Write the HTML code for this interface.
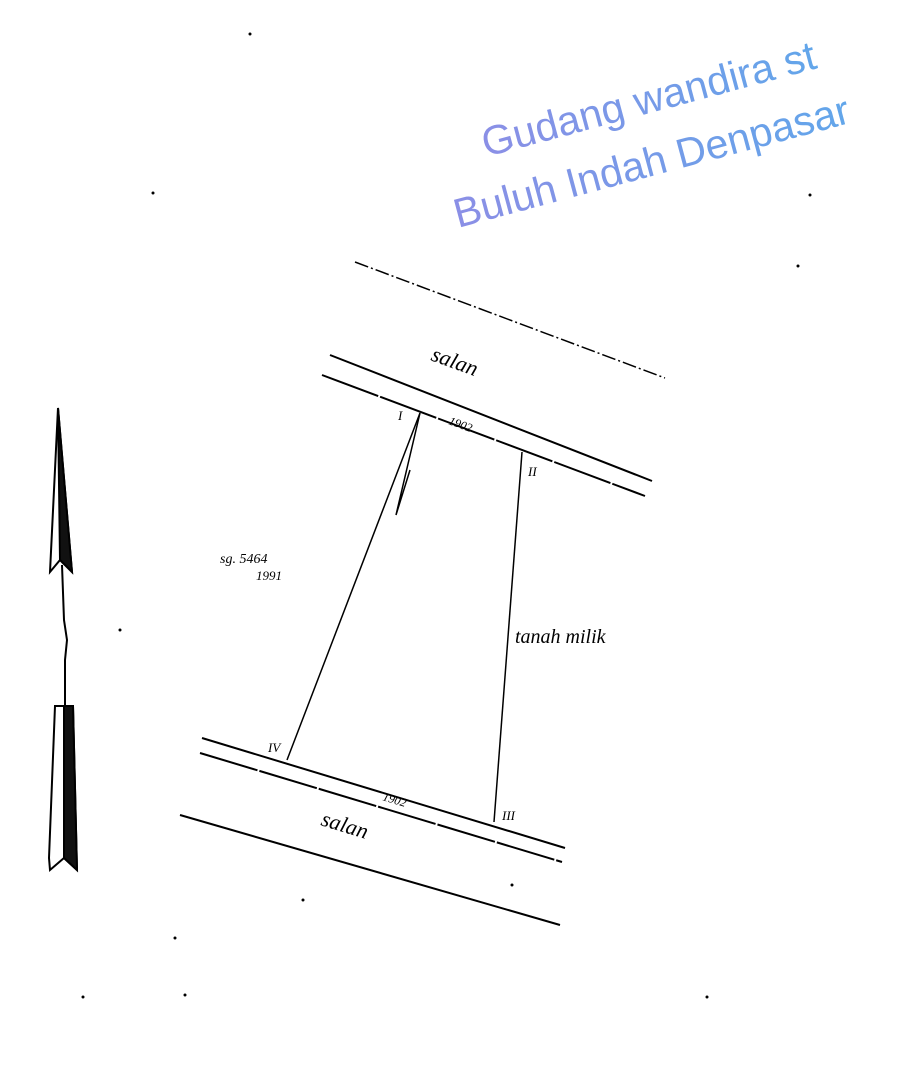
<!DOCTYPE html>
<html><head><style>
html,body{margin:0;padding:0;background:#fff;}
svg{display:block;}
</style></head><body>
<svg width="901" height="1080" viewBox="0 0 901 1080" xmlns="http://www.w3.org/2000/svg">
<defs>
<linearGradient id="g" x1="0" y1="0" x2="1" y2="0">
<stop offset="0" stop-color="#8b8fe6"/><stop offset="1" stop-color="#62a6ea"/>
</linearGradient>
</defs>
<rect width="901" height="1080" fill="#fff"/>
<g font-family="Liberation Sans, sans-serif" font-size="41" fill="url(#g)">
<text x="486" y="157" transform="rotate(-15 486 157)">Gudang wandira st</text>
<text x="458" y="228" transform="rotate(-15 458 228)">Buluh Indah Denpasar</text>
</g>
<!-- north arrow -->
<g stroke="#000" stroke-width="2" stroke-linejoin="miter">
<polygon points="58,408 50,572 60,560 72,572" fill="#fff"/>
<polygon points="58,408 60,560 72,572" fill="#111"/>
<polyline points="62,565 64,620 67,640 65,660 65,706" fill="none"/>
<polygon points="55,706 73,706 77,870 64,858 50,870 49,858" fill="#fff"/>
<polygon points="64,706 73,706 77,870 64,858" fill="#111"/>
</g>
<!-- roads -->
<g stroke="#000" stroke-width="2" fill="none">
<line x1="355" y1="262" x2="665" y2="378" stroke-dasharray="14,3,2,3" stroke-width="1.5"/>
<line x1="330" y1="355" x2="652" y2="481"/>
<line x1="322" y1="375" x2="645" y2="496" stroke-dasharray="60,2"/>
<line x1="202" y1="738" x2="565" y2="848"/>
<line x1="200" y1="753" x2="562" y2="862" stroke-dasharray="60,2"/>
<line x1="180" y1="815" x2="560" y2="925"/>
<line x1="420" y1="413" x2="287" y2="760" stroke-width="1.5"/>
<line x1="522" y1="452" x2="494" y2="822" stroke-width="1.5"/>
<polyline points="420,413 396,515 410,470" stroke-width="1.5"/>
</g>
<g font-family="Liberation Serif, serif" font-style="italic" fill="#000">
<text x="430" y="360" font-size="22" transform="rotate(20 430 360)">salan</text>
<text x="320" y="825" font-size="22" transform="rotate(17 320 825)">salan</text>
<text x="515" y="643" font-size="20">tanah milik</text>
<text x="220" y="563" font-size="14">sg. 5464</text>
<text x="256" y="580" font-size="13">1991</text>
<text x="448" y="424" font-size="12" transform="rotate(20 448 424)">1902</text>
<text x="382" y="800" font-size="12" transform="rotate(17 382 800)">1902</text>
<text x="398" y="420" font-size="13">I</text>
<text x="528" y="476" font-size="13">II</text>
<text x="502" y="820" font-size="13">III</text>
<text x="268" y="752" font-size="13">IV</text>
</g>
<g fill="#000">
<circle cx="250" cy="34" r="1.5"/><circle cx="153" cy="193" r="1.5"/>
<circle cx="810" cy="195" r="1.5"/><circle cx="798" cy="266" r="1.5"/>
<circle cx="120" cy="630" r="1.5"/><circle cx="303" cy="900" r="1.5"/>
<circle cx="512" cy="885" r="1.5"/><circle cx="175" cy="938" r="1.5"/>
<circle cx="185" cy="995" r="1.5"/><circle cx="707" cy="997" r="1.5"/>
<circle cx="83" cy="997" r="1.5"/>
</g>
</svg>
</body></html>
